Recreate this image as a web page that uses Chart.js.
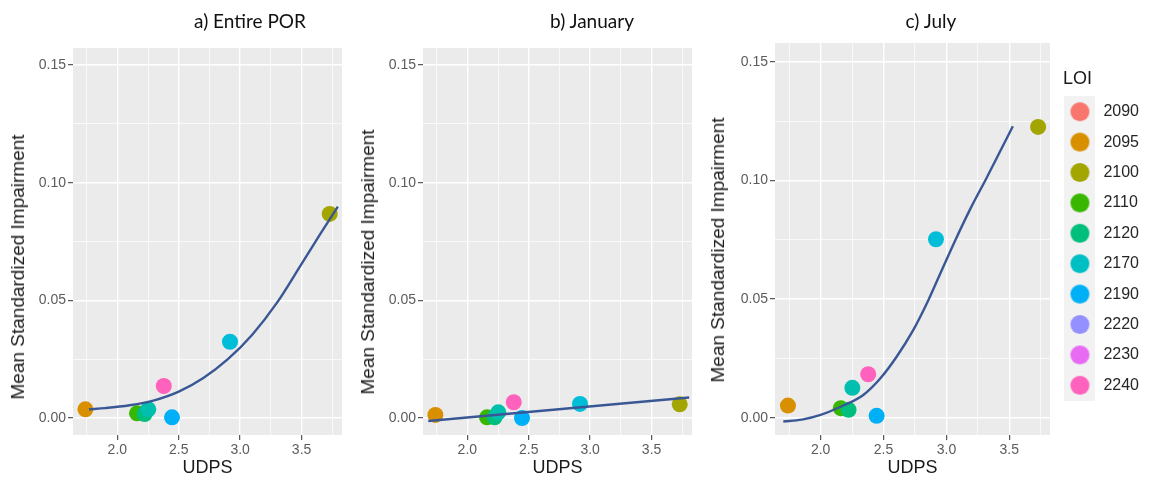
<!DOCTYPE html>
<html>
<head>
<meta charset="utf-8">
<script src="https://cdn.jsdelivr.net/npm/chart.js@4/dist/chart.umd.min.js"></script>
<style>
  html, body { margin: 0; padding: 0; background: #ffffff; }
  #wrap { position: relative; width: 1149px; height: 480px; overflow: hidden; background: #fff; }
  canvas { position: absolute; top: 0; }
  .ptitle { position: absolute; font-family: Lato, "Open Sans", sans-serif; font-size: 19px; color: #111; transform: translate(-50%, -50%); white-space: nowrap; }
  .ylab { position: absolute; font-family: "Liberation Sans", Arial, sans-serif; font-size: 19px; color: #1a1a1a; transform: translate(-50%, -50%) rotate(-90deg); white-space: nowrap; }
  .ltitle { position: absolute; font-family: "Liberation Sans", Arial, sans-serif; font-size: 18px; color: #1a1a1a; transform: translateY(-50%); white-space: nowrap; }
</style>
</head>
<body>
<div id="wrap">
  <canvas id="cA" width="350" height="480" style="left:0px"></canvas>
  <canvas id="cB" width="350" height="480" style="left:350px"></canvas>
  <canvas id="cC" width="449" height="480" style="left:700px"></canvas>
  <div class="ptitle" style="left:250px; top:20px">a) Entire POR</div>
  <div class="ptitle" style="left:592px; top:20px">b) January</div>
  <div class="ptitle" style="left:931px; top:20px">c) July</div>
  <div class="ylab" style="left:18px; top:267px">Mean Standardized Impairment</div>
  <div class="ylab" style="left:368px; top:262px">Mean Standardized Impairment</div>
  <div class="ylab" style="left:718px; top:250px">Mean Standardized Impairment</div>
  <div class="ltitle" style="left:1063px; top:78px">LOI</div>
</div>
<script>
// ---------- data ----------
const udps = [1.740, 2.160, 2.222, 2.252, 2.378, 2.445, 2.917, 3.729];
const pointColors = ['#D89000', '#39B600', '#00BF7D', '#00BFAE', '#FF62BC', '#00B0F6', '#00BDD8', '#A3A500'];

const impairmentPOR = [0.0037, 0.0020, 0.0017, 0.0037, 0.0136, 0.0003, 0.0324, 0.0867];
const impairmentJan = [0.0013, 0.0003, 0.0003, 0.0024, 0.0067, 0.0000, 0.0060, 0.0058];
const impairmentJul = [0.0051, 0.0040, 0.0033, 0.0126, 0.0183, 0.0008, 0.0752, 0.1225];

const fitPorX = [1.770, 1.900, 2.100, 2.300, 2.500, 2.700, 2.900, 3.100, 3.300, 3.500, 3.650, 3.795];
const fitPorY = [0.0037, 0.0042, 0.0054, 0.0075, 0.0112, 0.0170, 0.0250, 0.0355, 0.0490, 0.0655, 0.0780, 0.0898];

const fitJanX = [1.682, 3.806];
const fitJanY = [-0.0013, 0.0087];

const fitJulX = [1.703, 1.850, 2.000, 2.150, 2.339, 2.470, 2.604, 2.736, 2.843, 2.970, 3.068, 3.190, 3.314, 3.420, 3.528];
const fitJulY = [-0.0016, -0.0008, 0.0012, 0.0044, 0.0096, 0.0163, 0.0257, 0.0369, 0.0480, 0.0630, 0.0745, 0.0880, 0.1005, 0.1115, 0.1228];

const loiLabels = ['2090', '2095', '2100', '2110', '2120', '2170', '2190', '2220', '2230', '2240'];
const loiColors = ['#F8766D', '#D89000', '#A3A500', '#39B600', '#00BF7D', '#00BFC4', '#00B0F6', '#9590FF', '#E76BF3', '#FF62BC'];

const xMajorTicks = [2.0, 2.5, 3.0, 3.5];
const xMinorTicks = [1.75, 2.25, 2.75, 3.25, 3.75];
const yMajorTicks = [0.00, 0.05, 0.10, 0.15];
const yMinorTicks = [0.025, 0.075, 0.125];

const xLabel = 'UDPS';

// ---------- helpers ----------
Chart.defaults.font.family = '"Liberation Sans", Arial, sans-serif';
const near = (a, arr) => arr.some(v => Math.abs(v - a) < 1e-6);
const pts = (xs, ys) => xs.map((x, i) => ({ x: x, y: ys[i] }));

const bgPlugin = {
  id: 'panelBg',
  beforeDraw(chart) {
    const { ctx, chartArea } = chart;
    ctx.save();
    ctx.fillStyle = '#EBEBEB';
    ctx.fillRect(chartArea.left, chartArea.top, chartArea.width, chartArea.height);
    ctx.restore();
  }
};

function makeKey(color) {
  const c = document.createElement('canvas');
  c.width = 31; c.height = 31;
  const g = c.getContext('2d');
  g.fillStyle = '#F2F2F2';
  g.fillRect(0, 0, 31, 31);
  g.fillStyle = color;
  g.beginPath();
  g.arc(15.5, 15.5, 9.5, 0, Math.PI * 2);
  g.fill();
  return c;
}
const keyImages = loiColors.map(makeKey);

function scalesFor(xr, yr, yWidth, xHeight, xTitlePadBottom) {
  return {
    x: {
      type: 'linear', min: xr[0], max: xr[1],
      afterBuildTicks: s => { s.ticks = xMinorTicks.concat(xMajorTicks).sort((a, b) => a - b).map(v => ({ value: v })); },
      afterFit: s => { s.height = xHeight; },
      border: { display: false },
      grid: {
        color: '#FFFFFF',
        lineWidth: c => near(c.tick.value, xMajorTicks) ? 1.4 : 0.7,
        tickColor: c => near(c.tick.value, xMajorTicks) ? '#333333' : 'rgba(0,0,0,0)',
        tickWidth: 1, tickLength: 5, drawTicks: true
      },
      ticks: {
        autoSkip: false, maxRotation: 0, padding: 2,
        color: '#5c5c5c', font: { size: 14 },
        callback: v => near(v, xMajorTicks) ? Number(v).toFixed(1) : ''
      },
      title: { display: true, text: xLabel, color: '#1a1a1a', font: { size: 18 }, padding: { top: 0, bottom: xTitlePadBottom } }
    },
    y: {
      type: 'linear', min: yr[0], max: yr[1],
      afterBuildTicks: s => { s.ticks = yMinorTicks.concat(yMajorTicks).sort((a, b) => a - b).map(v => ({ value: v })); },
      afterFit: s => { s.width = yWidth; },
      border: { display: false },
      grid: {
        color: '#FFFFFF',
        lineWidth: c => near(c.tick.value, yMajorTicks) ? 1.4 : 0.7,
        tickColor: c => near(c.tick.value, yMajorTicks) ? '#333333' : 'rgba(0,0,0,0)',
        tickWidth: 1, tickLength: 5, drawTicks: true
      },
      ticks: {
        autoSkip: false, padding: 2,
        color: '#5c5c5c', font: { size: 14 },
        callback: v => near(v, yMajorTicks) ? Number(v).toFixed(2) : ''
      }
    }
  };
}

function datasetsFor(yvals, fx, fy) {
  return [
    {
      type: 'line', label: 'fit', data: pts(fx, fy),
      borderColor: '#3A5795', borderWidth: 2.4, pointRadius: 0,
      cubicInterpolationMode: 'monotone', fill: false
    },
    {
      type: 'scatter', label: 'LOI', data: pts(udps, yvals),
      backgroundColor: pointColors, borderWidth: 0, pointRadius: 8, pointHoverRadius: 8
    }
  ];
}

function makeChart(id, yvals, fx, fy, opt) {
  return new Chart(document.getElementById(id), {
    type: 'scatter',
    data: { datasets: datasetsFor(yvals, fx, fy) },
    options: {
      responsive: false, animation: false, devicePixelRatio: 1,
      events: [],
      layout: { padding: opt.padding },
      plugins: {
        legend: opt.legend || { display: false },
        tooltip: { enabled: false },
        title: { display: false }
      },
      scales: scalesFor(opt.xr, opt.yr, opt.yWidth, opt.xHeight, opt.xTitlePadBottom)
    },
    plugins: [bgPlugin]
  });
}

makeChart('cA', impairmentPOR, fitPorX, fitPorY, {
  padding: { top: 48, right: 4, bottom: 0, left: 0 },
  xr: [1.639, 3.829], yr: [-0.00722, 0.15722], yWidth: 73, xHeight: 45, xTitlePadBottom: 1.2
});

makeChart('cB', impairmentJan, fitJanX, fitJanY, {
  padding: { top: 48, right: 4, bottom: 0, left: 0 },
  xr: [1.639, 3.829], yr: [-0.00722, 0.15722], yWidth: 73, xHeight: 45, xTitlePadBottom: 1.2
});

makeChart('cC', impairmentJul, fitJulX, fitJulY, {
  padding: { top: 43, right: 0, bottom: 26, left: 0 },
  xr: [1.637, 3.8235], yr: [-0.00729, 0.15788], yWidth: 75, xHeight: 19, xTitlePadBottom: -24.8,
  legend: {
    display: true, position: 'right', align: 'center', fullSize: true,
    labels: {
      usePointStyle: true, pointStyleWidth: 31, padding: 14.4,
      color: '#262626', font: { size: 16 },
      generateLabels: () => loiLabels.map((t, i) => ({
        text: t, pointStyle: keyImages[i], fillStyle: loiColors[i],
        strokeStyle: 'rgba(0,0,0,0)', lineWidth: 0, hidden: false, index: i, fontColor: '#262626'
      }))
    }
  }
});
</script>
</body>
</html>
